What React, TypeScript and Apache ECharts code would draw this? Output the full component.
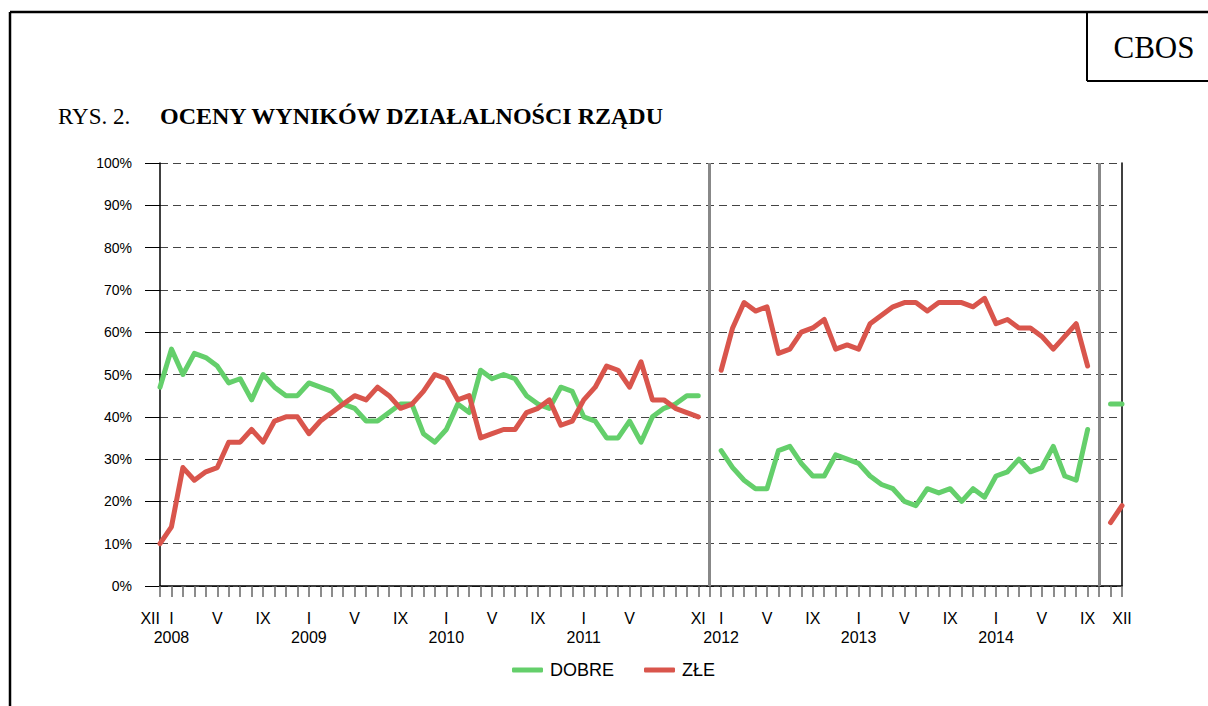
import { useEffect, useRef } from "react";
import * as echarts from "echarts";

const monthNames = ["I", "II", "III", "IV", "V", "VI", "VII", "VIII", "IX", "X", "XI", "XII"];

// Monthly categories from XII 2007 to XII 2014
const categories: string[] = ["XII 2007"];
for (let y = 2008; y <= 2014; y++) {
  for (const m of monthNames) categories.push(`${m} ${y}`);
}

// Categories that carry a tick label
const labeledCategories = [
  "XII 2007", "I 2008", "V 2008", "IX 2008",
  "I 2009", "V 2009", "IX 2009",
  "I 2010", "V 2010", "IX 2010",
  "I 2011", "V 2011", "XI 2011",
  "I 2012", "V 2012", "IX 2012",
  "I 2013", "V 2013", "IX 2013",
  "I 2014", "V 2014", "IX 2014", "XII 2014",
];

// Government change markers
const separators = ["XII 2011", "X 2014"];

const yTicks = [0, 10, 20, 30, 40, 50, 60, 70, 80, 90, 100];

// DOBRE (good) ratings, %
const dobre: (number | null)[] = [
  47,
  56, 50, 55, 54, 52, 48, 49, 44, 50, 47, 45, 45,
  48, 47, 46, 43, 42, 39, 39, 41, 43, 43, 36, 34,
  37, 43, 41, 51, 49, 50, 49, 45, 43, 42, 47, 46,
  40, 39, 35, 35, 39, 34, 40, 42, 43, 45, 45, null,
  32, 28, 25, 23, 23, 32, 33, 29, 26, 26, 31, 30,
  29, 26, 24, 23, 20, 19, 23, 22, 23, 20, 23, 21,
  26, 27, 30, 27, 28, 33, 26, 25, 37, null, 43, 43,
];

// ZŁE (bad) ratings, %
const zle: (number | null)[] = [
  10,
  14, 28, 25, 27, 28, 34, 34, 37, 34, 39, 40, 40,
  36, 39, 41, 43, 45, 44, 47, 45, 42, 43, 46, 50,
  49, 44, 45, 35, 36, 37, 37, 41, 42, 44, 38, 39,
  44, 47, 52, 51, 47, 53, 44, 44, 42, 41, 40, null,
  51, 61, 67, 65, 66, 55, 56, 60, 61, 63, 56, 57,
  56, 62, 64, 66, 67, 67, 65, 67, 67, 67, 66, 68,
  62, 63, 61, 61, 59, 56, 59, 62, 52, null, 15, 19,
];

const GREEN = "#64cf6b";
const RED = "#d9554c";
const SANS = "'Liberation Sans', Arial, sans-serif";
const SERIF = "'Liberation Serif', 'Times New Roman', serif";

const fmtMonth = (v: string) => {
  const [m, y] = v.split(" ");
  return m === "I" ? `${m}\n${y}` : m;
};

const labelBase = {
  formatter: fmtMonth,
  margin: 23,
  fontSize: 16,
  lineHeight: 19,
  color: "#000",
  fontFamily: SANS,
  hideOverlap: false,
};

export default function App() {
  const ref = useRef<HTMLDivElement>(null);

  useEffect(() => {
    if (!ref.current) return;
    const chart = echarts.init(ref.current, undefined, { renderer: "svg" });
    chart.setOption({
      animation: false,
      backgroundColor: "#ffffff",
      textStyle: { fontFamily: SANS },
      grid: { left: 160, right: 86, top: 163, bottom: 120, containLabel: false },
      legend: {
        bottom: 22,
        left: 507,
        itemWidth: 31,
        itemHeight: 5,
        itemGap: 30,
        icon: "roundRect",
        textStyle: { fontSize: 18, color: "#000", fontFamily: SANS, padding: [0, 0, 0, 2] },
        data: ["DOBRE", "ZŁE"],
      },
      xAxis: [
        {
          type: "category",
          position: "bottom",
          data: categories,
          boundaryGap: false,
          axisLine: { show: true, lineStyle: { color: "#000", width: 1.5 } },
          axisTick: {
            show: true,
            interval: 0,
            length: 11,
            lineStyle: { color: "#666", width: 1.5 },
          },
          axisLabel: {
            ...labelBase,
            interval: (i: number, v: string) => i > 0 && labeledCategories.includes(v),
            showMinLabel: true,
            showMaxLabel: true,
          },
          splitLine: { show: false },
        },
        {
          // carries only the first (XII 2007) label, right-aligned to its tick
          type: "category",
          position: "bottom",
          data: categories,
          boundaryGap: false,
          axisLine: { show: false },
          axisTick: { show: false },
          axisLabel: {
            ...labelBase,
            interval: (i: number, v: string) => i === 0 && labeledCategories.includes(v),
            showMinLabel: true,
            showMaxLabel: false,
            alignMinLabel: "right",
          },
          splitLine: { show: false },
        },
      ],
      yAxis: [
        {
          type: "value",
          min: yTicks[0],
          max: yTicks[yTicks.length - 1],
          interval: 10,
          axisLine: { show: true, lineStyle: { color: "#000", width: 1.5 } },
          axisTick: { show: true, length: 15, lineStyle: { color: "#000", width: 1 } },
          axisLabel: { formatter: "{value}%", margin: 28, fontSize: 14, color: "#000", fontFamily: SANS },
          splitLine: { show: true, lineStyle: { color: "#444", width: 1, type: [8, 5] } },
        },
        {
          type: "value",
          position: "right",
          min: yTicks[0],
          max: yTicks[yTicks.length - 1],
          interval: 10,
          axisLine: { show: true, lineStyle: { color: "#000", width: 1.5 } },
          axisTick: { show: false },
          axisLabel: { show: false },
          splitLine: { show: false },
        },
      ],
      series: [
        {
          name: "DOBRE",
          type: "line",
          data: dobre,
          symbol: "none",
          connectNulls: false,
          itemStyle: { color: GREEN },
          lineStyle: { color: GREEN, width: 5, cap: "round", join: "round" },
          z: 3,
          markLine: {
            silent: true,
            symbol: ["none", "none"],
            label: { show: false },
            lineStyle: { color: "#888", width: 3, type: "solid" },
            data: separators.map((s) => ({ xAxis: s })),
          },
        },
        {
          name: "ZŁE",
          type: "line",
          data: zle,
          symbol: "none",
          connectNulls: false,
          itemStyle: { color: RED },
          lineStyle: { color: RED, width: 5, cap: "round", join: "round" },
          z: 3,
        },
      ],
      graphic: [
        { type: "line", shape: { x1: 10, y1: 12, x2: 1208, y2: 12 }, style: { stroke: "#000", lineWidth: 2.5 } },
        { type: "line", shape: { x1: 10, y1: 12, x2: 10, y2: 706 }, style: { stroke: "#000", lineWidth: 2.5 } },
        { type: "line", shape: { x1: 1087, y1: 12, x2: 1087, y2: 81 }, style: { stroke: "#000", lineWidth: 2 } },
        { type: "line", shape: { x1: 1087, y1: 81, x2: 1208, y2: 81 }, style: { stroke: "#000", lineWidth: 2 } },
        {
          type: "text",
          x: 1154,
          y: 47,
          style: { text: "CBOS", fontFamily: SERIF, fontSize: 31, fill: "#000", textAlign: "center", textVerticalAlign: "middle" },
        },
        {
          type: "text",
          x: 58,
          y: 116,
          style: { text: "RYS. 2.", fontFamily: SERIF, fontSize: 23, fill: "#000", textAlign: "left", textVerticalAlign: "middle" },
        },
        {
          type: "text",
          x: 160,
          y: 116,
          style: {
            text: "OCENY WYNIKÓW DZIAŁALNOŚCI RZĄDU",
            fontFamily: SERIF,
            fontSize: 24,
            fontWeight: "bold",
            fill: "#000",
            textAlign: "left",
            textVerticalAlign: "middle",
          },
        },
      ],
    });
    return () => chart.dispose();
  }, []);

  return (
    <div
      ref={ref}
      style={{ position: "absolute", left: 0, top: 0, width: 1208, height: 706, background: "#fff" }}
    />
  );
}
